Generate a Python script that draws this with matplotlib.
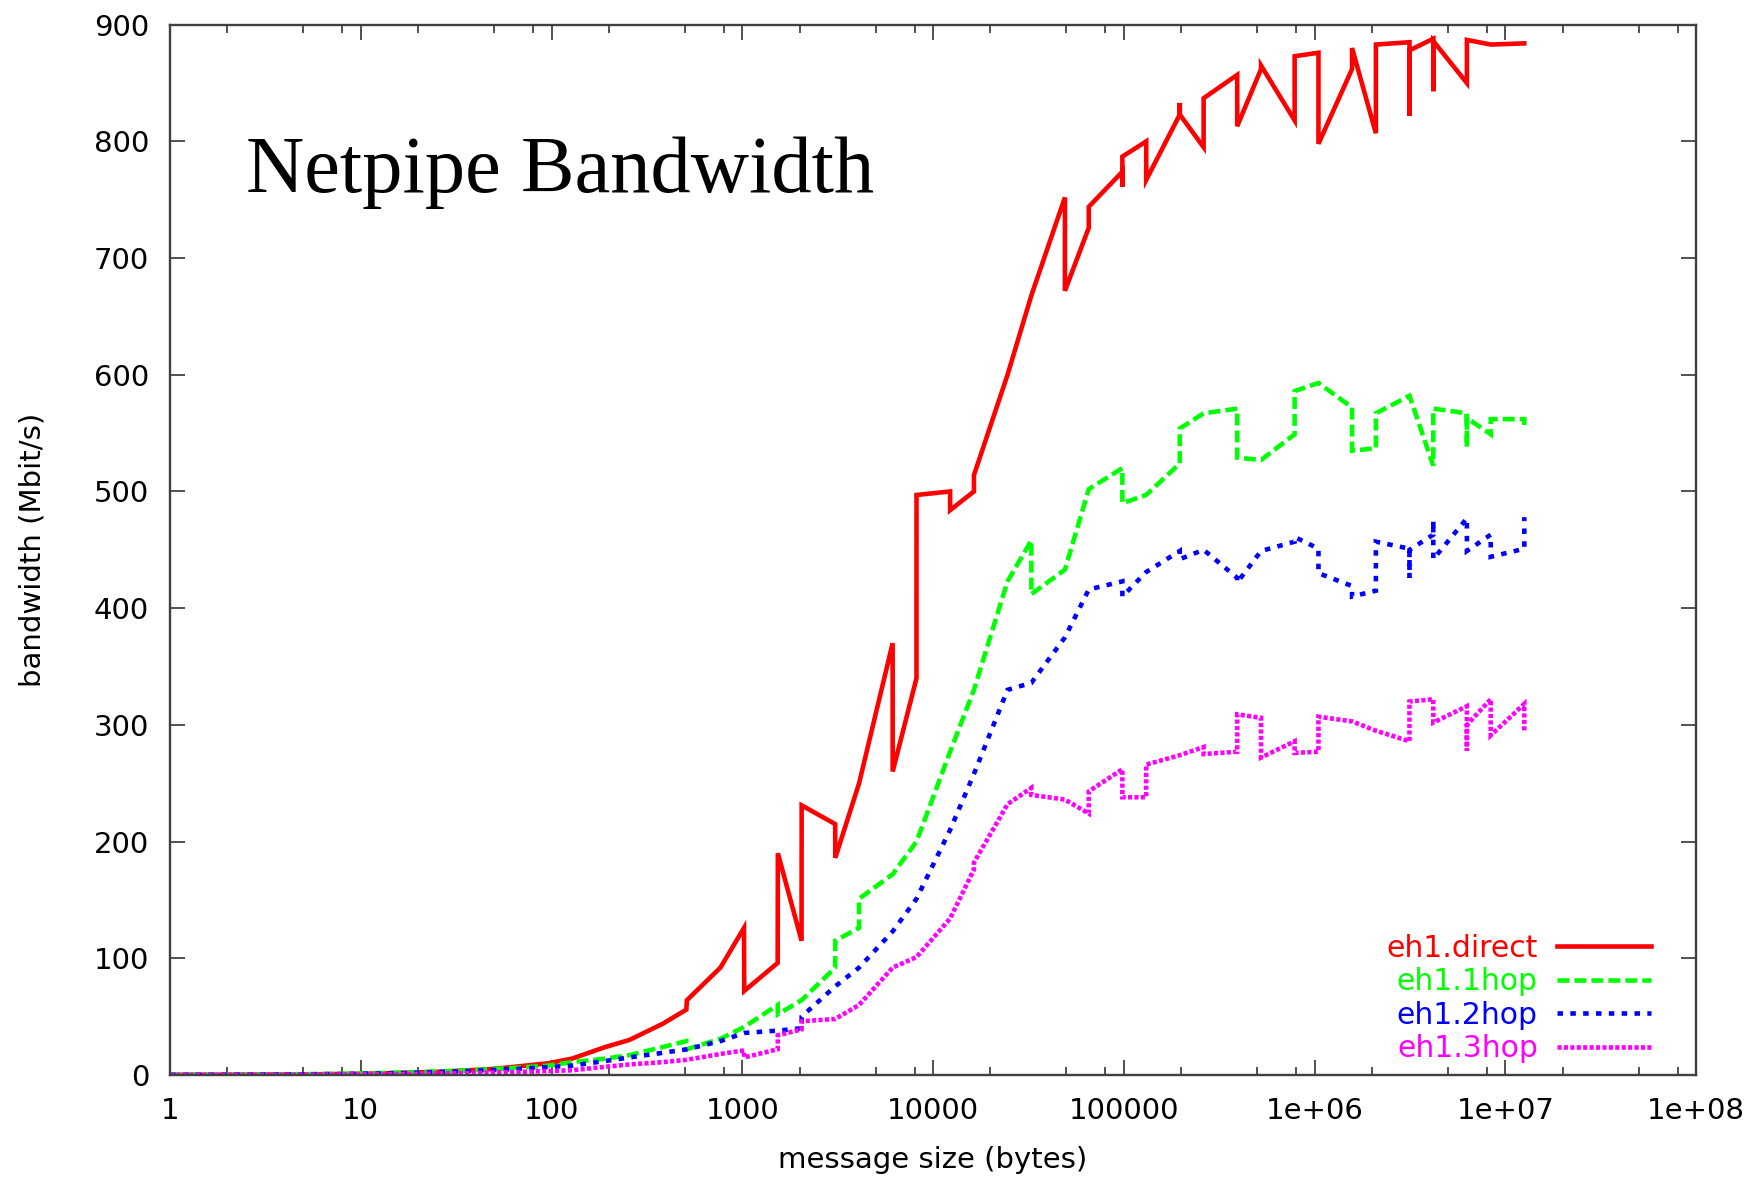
import matplotlib
matplotlib.use("Agg")
import matplotlib.pyplot as plt
from matplotlib.ticker import FixedLocator, NullFormatter

# ---- data (message size in bytes, bandwidth in Mbit/s) ----
red_x = [1, 2, 3, 4, 6, 8, 12, 16, 24, 32, 48, 64, 96, 128, 192, 256, 384, 509, 512, 768,
         1021, 1024, 1533, 1536, 2045, 2048, 3069, 3072, 4096, 6141, 6144, 8189, 8192, 12285,
         12288, 16381, 16384, 24576, 32768, 49149, 49152, 65533, 65536, 98301, 98304, 98307,
         131069, 131072, 196605, 196608, 196611, 262141, 262144, 393213, 393216, 524285,
         524288, 786429, 786432, 1048573, 1048576, 1572861, 1572864, 2097149, 2097152,
         3145725, 3145728, 3145731, 4194301, 4194304, 4194307, 6291453, 6291456, 8388608,
         12582912]
red_y = [0.1, 0.2, 0.3, 0.4, 0.6, 0.8, 1.2, 1.8, 2.5, 3.5, 5, 7, 10, 14, 24, 30, 44, 56, 64, 92,
         126, 72, 96, 190, 115, 231, 215, 186, 250, 370, 260, 340, 497, 500,
         484, 500, 514, 600, 668, 752, 672, 726, 744, 774, 761, 787,
         800, 767, 823, 833, 823, 795, 837, 857, 813, 862,
         865, 818, 873, 876, 798, 862, 880, 807, 883,
         885, 822, 878, 888, 843, 886, 850, 887, 883,
         884]

green_x = [1, 2, 4, 8, 16, 32, 64, 96, 128, 192, 256, 384, 509, 512, 768, 1021, 1533, 1536,
           2045, 3069, 3072, 4093, 4096, 6144, 8192, 12288, 16384, 24576, 32765, 32768, 49152,
           65536, 98301, 98304, 131072, 196605, 196608, 262144, 393213, 393216, 524288,
           786429, 786432, 1048576, 1572861, 1572864, 2097149, 2097152, 3145728, 4194301,
           4194304, 6291453, 6291456, 6291459, 8388608, 8388611, 12582909, 12582912]
green_y = [0.1, 0.2, 0.5, 1, 2, 3.5, 6, 8, 11, 14, 17, 24, 29, 22, 31, 41, 60, 52,
           64, 92, 115, 126, 151, 172, 200, 277, 330, 423, 458, 412, 433,
           502, 520, 490, 497, 524, 554, 567, 571, 529, 527,
           549, 586, 593, 572, 535, 537, 567, 582, 522,
           571, 567, 538, 563, 549, 562, 562, 557]

blue_x = [1, 2, 4, 8, 16, 32, 64, 128, 192, 256, 384, 512, 768, 1024, 1536, 2045, 2048, 3072,
          4096, 6144, 8192, 12288, 16384, 24573, 32768, 49152, 65536, 98301, 98304, 131072,
          196605, 196608, 262144, 393213, 393216, 524288, 786429, 786432, 1048573, 1048576,
          1572861, 1572864, 2097149, 2097152, 3145725, 3145728, 3145731, 4194301, 4194304,
          4194307, 6291453, 6291456, 8388605, 8388608, 12582909, 12582912]
blue_y = [0.1, 0.2, 0.4, 0.8, 1.5, 3, 5, 8, 12, 15, 19, 22, 29, 36, 38, 40, 50, 76,
          92, 123, 151, 210, 258, 330, 336, 375, 416, 423, 410, 431,
          449, 442, 450, 426, 422, 449, 457, 461, 451, 430,
          419, 410, 415, 457, 451, 426, 450, 463, 475,
          442, 477, 449, 463, 444, 451, 478]

mag_x = [1, 2, 4, 8, 16, 32, 64, 128, 192, 256, 384, 512, 768, 1021, 1024, 1533, 1536, 2045,
         2048, 3072, 4096, 6144, 8192, 12288, 16381, 16384, 24576, 32765, 32768, 49152,
         65533, 65536, 98301, 98304, 131069, 131072, 196608, 262141, 262144, 393213,
         393216, 524285, 524288, 786429, 786432, 1048573, 1048576, 1572864, 2097152, 3145725,
         3145728, 4194304, 4194307, 6291453, 6291456, 6291459, 8388605, 8388608, 12582909,
         12582912]
mag_y = [0.05, 0.1, 0.2, 0.4, 0.8, 1.5, 2.5, 4, 7, 9, 11, 13, 18, 21, 15, 22, 34, 39,
         46, 48, 60, 92, 101, 134, 176, 182, 232, 246, 240, 236,
         224, 243, 262, 238, 238, 266, 274, 281, 275, 277,
         309, 306, 272, 286, 276, 277, 307, 303, 295, 286,
         320, 322, 302, 316, 278, 300, 322, 291, 318,
         294]

series_labels = ["eh1.direct", "eh1.1hop", "eh1.2hop", "eh1.3hop"]
series_colors = ["#ff0000", "#00ff00", "#0000ff", "#ff00ff"]
x_tick_values = [1, 10, 100, 1000, 1e4, 1e5, 1e6, 1e7, 1e8]
x_tick_labels = ["1", "10", "100", "1000", "10000", "100000", "1e+06", "1e+07", "1e+08"]
y_tick_values = list(range(0, 901, 100))

# ---- figure ----
plt.rcParams["font.family"] = ["DejaVu Sans"]
fig = plt.figure(figsize=(17.53, 11.77), dpi=100)
ax = fig.add_axes([0.097, 0.0867, 0.8705, 0.8923])

lw = 3.3
dash_styles = ["-", (0, (2.6, 1.1)), (0, (1.2, 1.6)), (0, (0.9, 0.5))]
xs = [red_x, green_x, blue_x, mag_x]
ys = [red_y, green_y, blue_y, mag_y]
for x, y, lab, col, ls in zip(xs, ys, series_labels, series_colors, dash_styles):
    ax.plot(x, y, color=col, lw=lw, linestyle=ls, label=lab,
            solid_joinstyle="miter", dash_joinstyle="miter", dash_capstyle="butt")

ax.set_xscale("log")
ax.set_xlim(1, 1e8)
ax.set_ylim(0, 900)

ax.xaxis.set_major_locator(FixedLocator(x_tick_values))
ax.set_xticklabels(x_tick_labels)
minor = [m * 10 ** e for e in range(0, 8) for m in (2, 5, 8)]
ax.xaxis.set_minor_locator(FixedLocator(minor))
ax.xaxis.set_minor_formatter(NullFormatter())
ax.set_yticks(y_tick_values)

ax.tick_params(axis="both", which="major", direction="in", length=11, width=1.2,
               top=True, right=True, labelsize=21, colors="#333333", labelcolor="black")
ax.tick_params(axis="both", which="minor", direction="in", length=5.5, width=1.2,
               top=True, right=True, colors="#333333")
ax.tick_params(axis="x", which="major", pad=16)
ax.tick_params(axis="y", which="major", pad=15)
for s in ax.spines.values():
    s.set_linewidth(1.7)
    s.set_color("#404040")

ax.set_xlabel("message size (bytes)", fontsize=21)
ax.set_ylabel("bandwidth (Mbit/s)", fontsize=21)
ax.xaxis.set_label_coords(0.5, -0.068)
ax.yaxis.set_label_coords(-0.081, 0.5)

ax.text(0.05, 0.841, "Netpipe Bandwidth", transform=ax.transAxes,
        fontsize=58, family="Liberation Serif", va="baseline", ha="left")

leg = ax.legend(loc="lower right", bbox_to_anchor=(0.9785, 0.0), frameon=False,
                markerfirst=False, labelcolor="linecolor", fontsize=21.5,
                handlelength=3.15, handletextpad=0.65, labelspacing=0.15,
                borderaxespad=0)

fig.savefig("out.png", dpi=100)
